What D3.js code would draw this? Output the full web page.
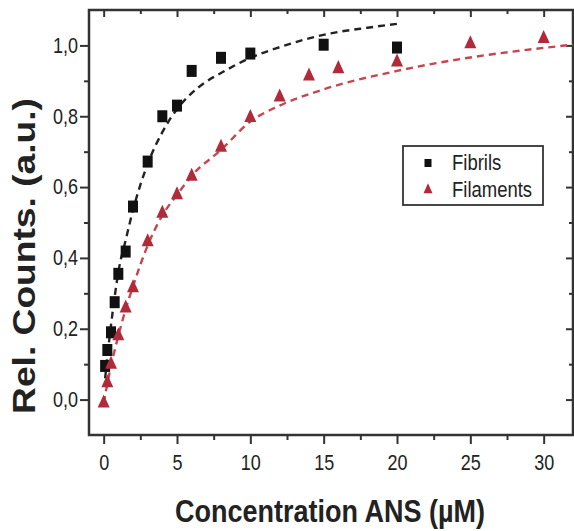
<!DOCTYPE html>
<html>
<head>
<meta charset="utf-8">
<script src="https://cdn.jsdelivr.net/npm/d3@7"></script>
<style>
  body { margin: 0; background: #fff; }
  text { font-family: "Liberation Sans", Arial, sans-serif; fill: #222; }
</style>
</head>
<body>
<script>
// Fibrils (black squares)
const fibX = [0.1, 0.25, 0.5, 0.75, 1, 1.5, 2, 3, 4, 5, 6, 8, 10, 15, 20]
const fibY = [0.095, 0.14, 0.19, 0.275, 0.355, 0.418, 0.545, 0.672, 0.80, 0.83, 0.928, 0.965, 0.977, 1.002, 0.994]

// Filaments (red triangles)
const filX = [0, 0.25, 0.5, 1, 1.5, 2, 3, 4, 5, 6, 8, 10, 12, 14, 16, 20, 25, 30]
const filY = [-0.01, 0.047, 0.099, 0.18, 0.258, 0.315, 0.445, 0.526, 0.578, 0.63, 0.712, 0.796, 0.854, 0.913, 0.934, 0.953, 1.004, 1.019]

// dashed fit curves
const fitFibX = [0.1, 0.25, 0.5, 0.75, 1, 1.5, 2, 3, 4, 5, 6, 7, 8, 10, 12, 14, 16, 18, 20]
const fitFibY = [0.06, 0.12, 0.21, 0.29, 0.36, 0.45, 0.535, 0.665, 0.755, 0.82, 0.865, 0.898, 0.922, 0.965, 0.995, 1.02, 1.038, 1.05, 1.061]
const fitFilX = [0, 0.25, 0.5, 1, 1.5, 2, 3, 4, 5, 6, 8, 10, 12, 15, 20, 25, 30, 32]
const fitFilY = [-0.01, 0.045, 0.095, 0.18, 0.255, 0.32, 0.435, 0.52, 0.578, 0.632, 0.705, 0.785, 0.83, 0.876, 0.928, 0.966, 0.993, 1.002]

const xMajor = [0, 5, 10, 15, 20, 25, 30]
const xMinor = [2.5, 7.5, 12.5, 17.5, 22.5, 27.5]
const yMajor = [0, 0.2, 0.4, 0.6, 0.8, 1.0]
const yMinor = [0.1, 0.3, 0.5, 0.7, 0.9]

const legendLabels = ['Fibrils', 'Filaments']

// -----------------------------------------------------------------------------

var width = 574
var height = 531
var plotL = 89, plotR = 573, plotT = 10, plotB = 435
var stretch = 1.18 // the picture is a bit taller than wide

var svg = d3.select('body').append('svg')
    .attr('width', width)
    .attr('height', height)

var x = d3.scaleLinear().domain([-1, 32]).range([plotL, plotR])
var y = d3.scaleLinear().domain([-0.1, 1.1]).range([plotB, plotT])

const fmtY = d => d3.format('.1f')(d).replace('.', ',')

// axes
function styleAxis (g) {
  g.select('.domain').remove()
  g.selectAll('line').attr('stroke', '#333').attr('stroke-width', 2)
}

svg.append('g')
  .attr('transform', 'translate(0,' + plotB + ')')
  .call(d3.axisBottom(x).tickValues(xMinor).tickSize(5).tickFormat(''))
  .call(styleAxis)

var xAxis = svg.append('g')
  .attr('transform', 'translate(0,' + plotB + ')')
  .call(d3.axisBottom(x).tickValues(xMajor).tickSize(9))
  .call(styleAxis)
xAxis.selectAll('text')
  .attr('dy', null)
  .attr('y', 35 / stretch)
  .attr('transform', 'scale(1,' + stretch + ')')
  .style('font-size', '18px')
  .attr('fill', '#333')

svg.append('g')
  .attr('transform', 'translate(' + plotL + ',0)')
  .call(d3.axisLeft(y).tickValues(yMinor).tickSize(5).tickFormat(''))
  .call(styleAxis)

var yAxis = svg.append('g')
  .attr('transform', 'translate(' + plotL + ',0)')
  .call(d3.axisLeft(y).tickValues(yMajor).tickSize(9).tickFormat(fmtY))
  .call(styleAxis)
yAxis.selectAll('text')
  .attr('x', -11)
  .attr('y', 0)
  .attr('transform', 'scale(1,' + stretch + ')')
  .style('font-size', '18px')
  .attr('fill', '#333')

// mirrored inner ticks on top and right
svg.append('g')
  .attr('transform', 'translate(0,' + plotT + ')')
  .call(d3.axisTop(x).tickValues(xMajor).tickSize(-7).tickFormat(''))
  .call(styleAxis)
svg.append('g')
  .attr('transform', 'translate(0,' + plotT + ')')
  .call(d3.axisTop(x).tickValues(xMinor).tickSize(-4).tickFormat(''))
  .call(styleAxis)
svg.append('g')
  .attr('transform', 'translate(' + plotR + ',0)')
  .call(d3.axisRight(y).tickValues(yMajor).tickSize(-7).tickFormat(''))
  .call(styleAxis)
svg.append('g')
  .attr('transform', 'translate(' + plotR + ',0)')
  .call(d3.axisRight(y).tickValues(yMinor).tickSize(-4).tickFormat(''))
  .call(styleAxis)

// frame
svg.append('rect')
  .attr('x', plotL)
  .attr('y', plotT)
  .attr('width', plotR - plotL)
  .attr('height', plotB - plotT)
  .attr('fill', 'none')
  .attr('stroke', '#333')
  .attr('stroke-width', 2.5)

// fit curves
var line = d3.line()
  .x(d => x(d[0]))
  .y(d => y(d[1]))
  .curve(d3.curveMonotoneX)

svg.append('clipPath').attr('id', 'plot')
  .append('rect')
  .attr('x', plotL).attr('y', plotT)
  .attr('width', plotR - plotL).attr('height', plotB - plotT)

var plot = svg.append('g').attr('clip-path', 'url(#plot)')

plot.append('path')
  .datum(d3.zip(fitFibX, fitFibY))
  .attr('d', line)
  .attr('fill', 'none')
  .attr('stroke', '#222')
  .attr('stroke-width', 2.4)
  .attr('stroke-dasharray', '7,5')

plot.append('path')
  .datum(d3.zip(fitFilX, fitFilY))
  .attr('d', line)
  .attr('fill', 'none')
  .attr('stroke', '#c4464f')
  .attr('stroke-width', 2.4)
  .attr('stroke-dasharray', '7,5')

// markers
const trianglePath = (w, h) => 'M0,' + (-h * 2 / 3) + 'L' + (w / 2) + ',' + (h / 3) + 'L' + (-w / 2) + ',' + (h / 3) + 'Z'

plot.selectAll('rect.fib')
  .data(d3.zip(fibX, fibY)).enter()
  .append('rect')
  .attr('class', 'fib')
  .attr('x', d => x(d[0]) - 5)
  .attr('y', d => y(d[1]) - 6)
  .attr('width', 10)
  .attr('height', 12)
  .attr('fill', '#111')

plot.selectAll('path.fil')
  .data(d3.zip(filX, filY)).enter()
  .append('path')
  .attr('class', 'fil')
  .attr('d', trianglePath(12, 13))
  .attr('transform', d => 'translate(' + x(d[0]) + ',' + y(d[1]) + ')')
  .attr('fill', '#b02a3a')

// legend
var legend = svg.append('g')
legend.append('rect')
  .attr('x', 403).attr('y', 146)
  .attr('width', 140).attr('height', 59)
  .attr('fill', '#fff')
  .attr('stroke', '#333')
  .attr('stroke-width', 1.8)
legend.append('rect')
  .attr('x', 424.5).attr('y', 159)
  .attr('width', 7).attr('height', 8)
  .attr('fill', '#111')
legend.append('path')
  .attr('d', trianglePath(9, 10))
  .attr('transform', 'translate(428,190)')
  .attr('fill', '#b02a3a')
legend.selectAll('text')
  .data(legendLabels).enter()
  .append('text')
  .attr('x', 452)
  .attr('y', (d, i) => (170 + i * 27) / stretch)
  .attr('transform', 'scale(1,' + stretch + ')')
  .style('font-size', '18.5px')
  .text(d => d)

// axis titles
svg.append('text')
  .attr('transform', 'translate(330,522) scale(1,' + stretch + ')')
  .attr('text-anchor', 'middle')
  .style('font-size', '27px')
  .style('font-weight', 'bold')
  .text('Concentration ANS (\u00b5M)')

svg.append('text')
  .attr('transform', 'translate(35,256) scale(1,' + stretch + ') rotate(-90)')
  .attr('text-anchor', 'middle')
  .style('font-size', '31.5px')
  .style('font-weight', 'bold')
  .text('Rel. Counts. (a.u.)')
</script>
</body>
</html>
